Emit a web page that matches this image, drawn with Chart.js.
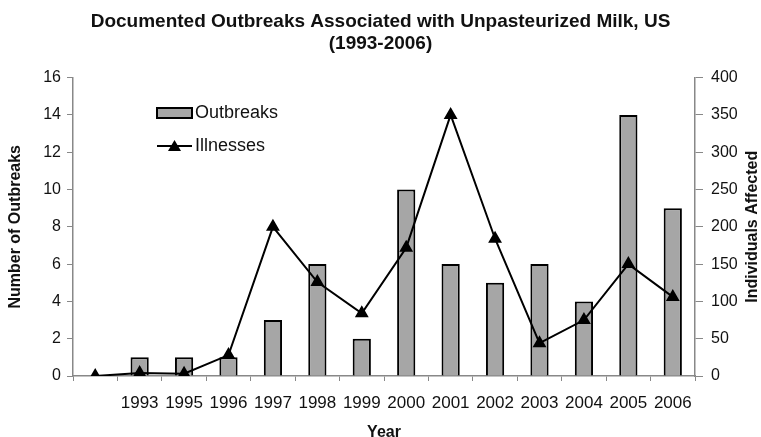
<!DOCTYPE html>
<html>
<head>
<meta charset="utf-8">
<script src="https://cdn.jsdelivr.net/npm/chart.js@4/dist/chart.umd.min.js"></script>
<style>
  html, body { margin: 0; padding: 0; background: #fff; }
  #wrap { width: 761px; height: 437px; }
</style>
</head>
<body>
<div id="wrap"><canvas id="myChart" width="761" height="437"></canvas></div>
<script>
let years = ['', '1993', '1995', '1996', '1997', '1998', '1999', '2000', '2001', '2002', '2003', '2004', '2005', '2006'];
let outbreaks = [null, 1, 1, 1, 3, 6, 2, 10, 6, 5, 6, 4, 14, 9];
let illnesses = [0, 4, 3, 28, 200, 126, 84, 172, 350, 184, 44, 75, 150, 106];
let leftTicks = [0, 2, 4, 6, 8, 10, 12, 14, 16];
let rightTicks = [0, 50, 100, 150, 200, 250, 300, 350, 400];

const font = 'Arial, "Liberation Sans", sans-serif';
const textColor = '#111';
const axisColor = '#888';

// legend sits inside the plot, top left, like the original
const insideLegend = {
    id: 'insideLegend',
    afterDraw(chart) {
        const ctx = chart.ctx;
        ctx.save();
        ctx.font = '18px ' + font;
        ctx.textBaseline = 'middle';
        // bar entry
        ctx.fillStyle = '#a6a6a6';
        ctx.fillRect(157, 108, 35, 10);
        ctx.strokeStyle = '#000';
        ctx.lineWidth = 2;
        ctx.strokeRect(157, 108, 35, 10);
        ctx.fillStyle = textColor;
        ctx.fillText('Outbreaks', 195, 113);
        // line entry
        ctx.beginPath();
        ctx.moveTo(157, 146);
        ctx.lineTo(192, 146);
        ctx.lineWidth = 2;
        ctx.stroke();
        ctx.beginPath();
        ctx.moveTo(174.5, 140);
        ctx.lineTo(181, 151);
        ctx.lineTo(168, 151);
        ctx.closePath();
        ctx.fillStyle = '#000';
        ctx.fill();
        ctx.fillStyle = textColor;
        ctx.fillText('Illnesses', 195, 146);
        // right axis title, reading bottom to top
        const area = chart.chartArea;
        ctx.font = 'bold 16px ' + font;
        ctx.textAlign = 'center';
        ctx.translate(753, (area.top + area.bottom) / 2);
        ctx.rotate(-Math.PI / 2);
        ctx.fillText('Individuals Affected', 0, 0);
        ctx.restore();
    }
};

let ctx = document.getElementById('myChart').getContext('2d');

let chart = new Chart(ctx, {
    type: 'bar',
    data: {
        labels: years,
        datasets: [{
            type: 'line',
            label: 'Illnesses',
            data: illnesses,
            yAxisID: 'y2',
            borderColor: '#000',
            backgroundColor: '#000',
            borderWidth: 2,
            pointStyle: 'triangle',
            pointRadius: 6,
            pointBackgroundColor: '#000',
            tension: 0,
            order: 0
        }, {
            label: 'Outbreaks',
            data: outbreaks,
            yAxisID: 'y',
            backgroundColor: '#a6a6a6',
            borderColor: '#000',
            borderWidth: 2,
            barPercentage: 0.41,
            categoryPercentage: 1,
            order: 1
        }]
    },
    plugins: [insideLegend],
    options: {
        responsive: false,
        animation: false,
        layout: { padding: { top: 0, bottom: 0, left: 0, right: 0 } },
        plugins: {
            legend: { display: false },
            tooltip: { enabled: false },
            title: {
                display: true,
                text: ['Documented Outbreaks Associated with Unpasteurized Milk, US', '(1993-2006)'],
                color: textColor,
                font: { family: font, size: 19, weight: 'bold', lineHeight: 1.2 },
                padding: { top: 10, bottom: 22 }
            }
        },
        scales: {
            x: {
                offset: true,
                grid: { drawOnChartArea: false, drawTicks: true, tickLength: 5, color: axisColor, offset: true },
                border: { color: axisColor, width: 1.5 },
                ticks: { color: textColor, font: { family: font, size: 17 }, padding: 12, maxRotation: 0, autoSkip: false },
                title: { display: true, text: 'Year', color: textColor, font: { family: font, size: 16, weight: 'bold' }, padding: { top: 0, bottom: -5 } },
                afterFit(s) { s.height = 61; }
            },
            y: {
                position: 'left',
                min: 0,
                max: 16,
                afterBuildTicks(s) { s.ticks = leftTicks.map(v => ({ value: v })); },
                grid: { drawOnChartArea: false, drawTicks: true, tickLength: 6, color: axisColor },
                border: { color: axisColor, width: 1.5 },
                ticks: { color: textColor, font: { family: font, size: 16 }, padding: 6 },
                title: { display: true, text: 'Number of Outbreaks', color: textColor, font: { family: font, size: 16, weight: 'bold' }, padding: { top: 6, bottom: 0 } },
                afterFit(s) { s.width = 73; }
            },
            y2: {
                position: 'right',
                min: 0,
                max: 400,
                afterBuildTicks(s) { s.ticks = rightTicks.map(v => ({ value: v })); },
                grid: { drawOnChartArea: false, drawTicks: true, tickLength: 8, color: axisColor },
                border: { color: axisColor, width: 1.5 },
                ticks: { color: textColor, font: { family: font, size: 16 }, padding: 8 },
                afterFit(s) { s.width = 66; }
            }
        }
    }
});
</script>
</body>
</html>
